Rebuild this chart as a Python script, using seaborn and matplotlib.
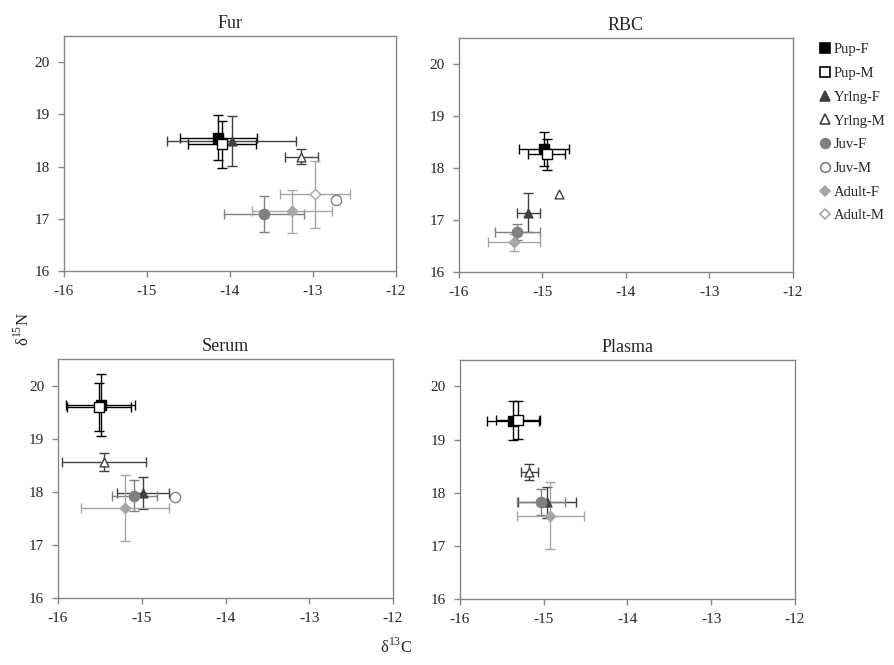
import numpy as np
import pandas as pd
import matplotlib
matplotlib.use("Agg")
import matplotlib.pyplot as plt
from matplotlib.lines import Line2D
import seaborn as sns

sns.set_style("white")
plt.rcParams['font.family'] = ['Liberation Serif', 'DejaVu Serif']
plt.rcParams['mathtext.fontset'] = 'custom'
plt.rcParams['mathtext.rm'] = 'Liberation Serif'

nan = np.nan
groups = ["Pup-F", "Pup-M", "Yrlng-F", "Yrlng-M", "Juv-F", "Juv-M", "Adult-F", "Adult-M"]
tissues = ["Fur", "RBC", "Serum", "Plasma"]

fur_x    = [-14.14, -14.10, -13.98, -13.14, -13.59, -12.72, -13.25, -12.98]
fur_y    = [18.55, 18.43, 18.49, 18.19, 17.09, 17.35, 17.14, 17.47]
fur_xerr = [0.46, 0.41, 0.78, 0.20, 0.48, nan, 0.48, 0.42]
fur_yerr = [0.43, 0.45, 0.48, 0.14, 0.35, nan, 0.41, 0.64]

rbc_x    = [-14.98, -14.95, -15.17, -14.80, -15.30, nan, -15.34, nan]
rbc_y    = [18.37, 18.26, 17.14, 17.50, 16.77, nan, 16.57, nan]
rbc_xerr = [0.30, 0.22, 0.14, nan, 0.27, nan, 0.31, nan]
rbc_yerr = [0.33, 0.30, 0.38, nan, 0.15, nan, 0.16, nan]

serum_x    = [-15.49, -15.51, -14.99, -15.45, -15.09, -14.60, -15.20, nan]
serum_y    = [19.63, 19.59, 17.98, 18.56, 17.93, 17.91, 17.69, nan]
serum_xerr = [0.41, 0.38, 0.31, 0.50, 0.27, nan, 0.52, nan]
serum_yerr = [0.58, 0.45, 0.30, 0.17, 0.29, nan, 0.62, nan]

plasma_x    = [-15.37, -15.31, -14.96, -15.17, -15.03, nan, -14.92, nan]
plasma_y    = [19.36, 19.37, 17.82, 18.40, 17.83, nan, 17.57, nan]
plasma_xerr = [0.31, 0.26, 0.35, 0.10, 0.29, nan, 0.40, nan]
plasma_yerr = [0.36, 0.36, 0.29, 0.15, 0.25, nan, 0.63, nan]

x_ticks = [-16, -15, -14, -13, -12]
y_ticks = [16, 17, 18, 19, 20]

data = {
    "Fur": (fur_x, fur_y, fur_xerr, fur_yerr),
    "RBC": (rbc_x, rbc_y, rbc_xerr, rbc_yerr),
    "Serum": (serum_x, serum_y, serum_xerr, serum_yerr),
    "Plasma": (plasma_x, plasma_y, plasma_xerr, plasma_yerr),
}

colors = {"Pup": "#000000", "Yrlng": "#404040", "Juv": "#808080", "Adult": "#a6a6a6"}
markers = {"Pup": "s", "Yrlng": "^", "Juv": "o", "Adult": "D"}
msize = {"Pup": 46, "Yrlng": 40, "Juv": 55, "Adult": 28}

fig = plt.figure(figsize=(8.94, 6.65), dpi=100)
positions = {
    "Fur":    [0.0716, 0.5925, 0.3714, 0.3534],
    "RBC":    [0.5134, 0.5910, 0.3736, 0.3520],
    "Serum":  [0.0649, 0.1003, 0.3747, 0.3600],
    "Plasma": [0.5145, 0.0988, 0.3747, 0.3600],
}

spine_col = "#868686"
for t in tissues:
    ax = fig.add_axes(positions[t])
    xs, ys, xe, ye = data[t]
    df = pd.DataFrame({"group": groups, "x": xs, "y": ys, "xerr": xe, "yerr": ye})
    for i, row in df.iterrows():
        if np.isnan(row.x):
            continue
        age, sex = row.group.split("-")
        c = colors[age]
        xerr = None if np.isnan(row.xerr) else row.xerr
        yerr = None if np.isnan(row.yerr) else row.yerr
        if xerr is not None or yerr is not None:
            ax.errorbar(row.x, row.y, xerr=xerr, yerr=yerr, fmt="none",
                        ecolor=c, elinewidth=1.0, capsize=3.5, capthick=1.0, zorder=2 + i * 0.1)
        sub = df.iloc[[i]]
        face = c if sex == "F" else "white"
        sns.scatterplot(data=sub, x="x", y="y", ax=ax, marker=markers[age], s=msize[age],
                        color=face, edgecolor=c, linewidth=1.0, zorder=3 + i * 0.1, legend=False)
    ax.set_xlim(-16, -12)
    ax.set_ylim(16, 20.5)
    ax.set_xticks(x_ticks)
    ax.set_yticks(y_ticks)
    ax.set_xticklabels([str(v) for v in x_ticks])
    ax.set_yticklabels([str(v) for v in y_ticks])
    ax.set_xlabel("")
    ax.set_ylabel("")
    ax.set_title(t, fontsize=13, pad=6)
    ax.tick_params(axis="both", which="major", direction="out", length=4, width=1,
                   color=spine_col, labelsize=11, pad=6, bottom=True, left=True)
    for s in ax.spines.values():
        s.set_color(spine_col)
        s.set_linewidth(1.0)
        s.set_visible(True)

fig.text(0.026, 0.505, r"δ$^{15}$N", rotation=90, ha="center", va="center", fontsize=12)
fig.text(0.443, 0.027, r"δ$^{13}$C", ha="center", va="center", fontsize=12)

handles = []
for g in groups:
    age, sex = g.split("-")
    c = colors[age]
    handles.append(Line2D([], [], linestyle="none", marker=markers[age],
                          markersize=7 if age != "Adult" else 5.5,
                          markerfacecolor=c if sex == "F" else "white",
                          markeredgecolor=c, markeredgewidth=1.2, label=g))
fig.legend(handles=handles, loc="upper left", bbox_to_anchor=(0.918, 0.935), frameon=False,
           fontsize=10.5, handlelength=0.6, handletextpad=0.3, labelspacing=0.72,
           borderaxespad=0, borderpad=0)

fig.savefig("out.png", dpi=100)
